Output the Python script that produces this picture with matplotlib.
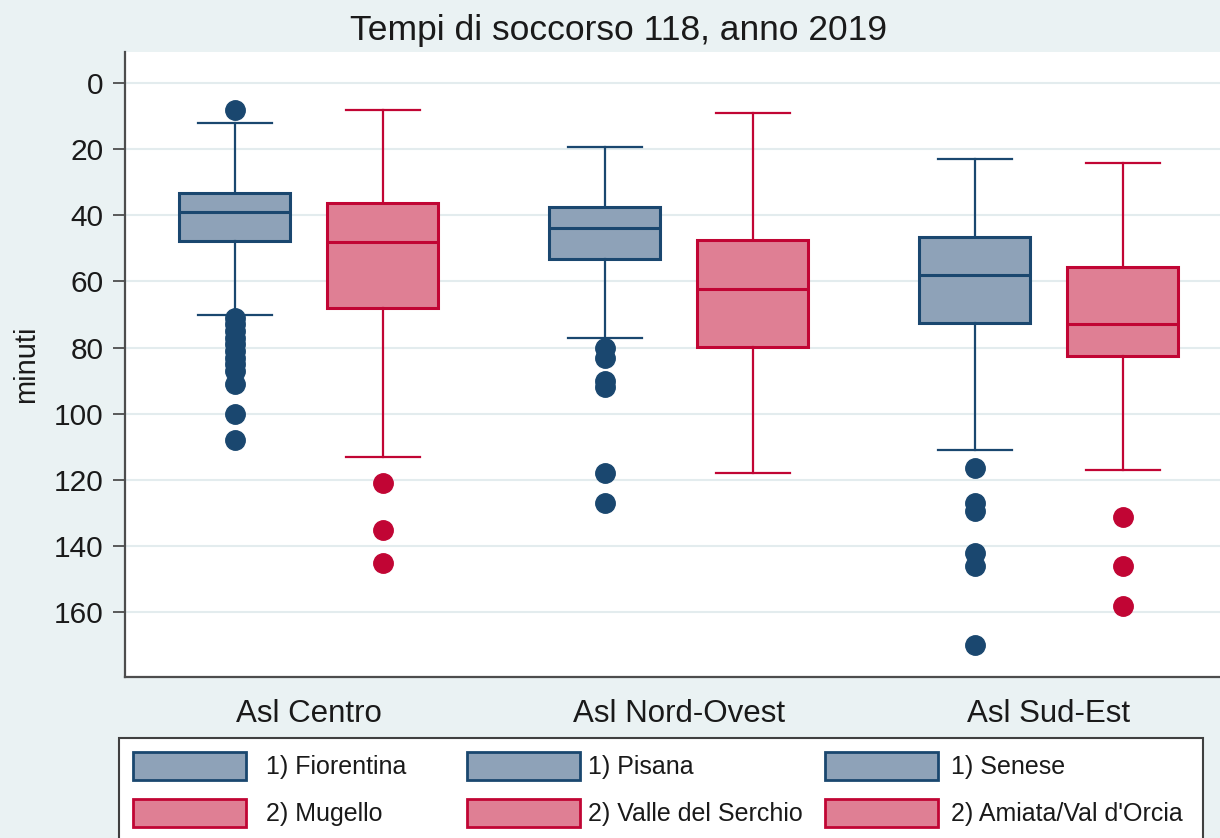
import matplotlib
matplotlib.use("Agg")
import matplotlib.pyplot as plt
from matplotlib.patches import Patch, Rectangle

plt.rcParams['font.family'] = ['Liberation Sans', 'DejaVu Sans']

groups = ['Asl Centro', 'Asl Nord-Ovest', 'Asl Sud-Est']
labels_1 = ['1) Fiorentina', '1) Pisana', '1) Senese']
labels_2 = ['2) Mugello', '2) Valle del Serchio', "2) Amiata/Val d'Orcia"]

# box stats: whisker top, q1, median, q3, whisker bottom (minuti)
whislo_1 = [12, 19.2, 23]
q1_1 = [33.3, 37.5, 46.5]
med_1 = [39, 43.9, 58]
q3_1 = [47.7, 53.2, 72.7]
whishi_1 = [70.2, 77.1, 111]
fliers_1 = [
    [8, 71, 73, 75, 77, 79, 81, 83, 85, 87, 91, 100, 108],
    [80, 83, 90, 92, 118, 127],
    [116.3, 127, 129.5, 142, 146, 170],
]

whislo_2 = [8.1, 9.1, 24.1]
q1_2 = [36.4, 47.4, 55.6]
med_2 = [48, 62.2, 73]
q3_2 = [67.9, 79.8, 82.6]
whishi_2 = [113.1, 118, 117.1]
fliers_2 = [
    [121, 135, 145],
    [],
    [131.2, 146.1, 158.2],
]

blue_edge = '#1a476f'
blue_fill = '#8ea2b8'
red_edge = '#c10534'
red_fill = '#df7f94'
bg = '#eaf2f3'


def make_stats(lo, a, m, b, hi, fl):
    return [dict(whislo=lo[i], q1=a[i], med=m[i], q3=b[i], whishi=hi[i], fliers=fl[i])
            for i in range(len(lo))]


fig = plt.figure(figsize=(12.2, 8.38), dpi=100, facecolor=bg)
ax = fig.add_axes([125 / 1220, 1 - 677 / 838, 1095 / 1220, 625 / 838])
ax.set_facecolor('white')

pos = [0, 1, 2]
for stats, off, ec, fc in [
    (make_stats(whislo_1, q1_1, med_1, q3_1, whishi_1, fliers_1), -0.2, blue_edge, blue_fill),
    (make_stats(whislo_2, q1_2, med_2, q3_2, whishi_2, fliers_2), 0.2, red_edge, red_fill),
]:
    ax.bxp(stats, positions=[p + off for p in pos], widths=0.3, capwidths=0.2,
           patch_artist=True, showfliers=True, manage_ticks=False,
           boxprops=dict(facecolor=fc, edgecolor=ec, linewidth=2.2),
           medianprops=dict(color=ec, linewidth=2.2),
           whiskerprops=dict(color=ec, linewidth=1.6),
           capprops=dict(color=ec, linewidth=1.6),
           flierprops=dict(marker='o', markerfacecolor=ec, markeredgecolor=ec,
                           markersize=14, linestyle='none'))

ax.set_xlim(-0.497, 2.463)
ax.set_ylim(179.6, -9.4)
ax.set_yticks(range(0, 161, 20))
ax.set_xticks(pos)
ax.set_xticklabels(groups)
ax.tick_params(axis='y', labelsize=21.5, length=8.6, width=1.3, color='#4d4d4d',
               pad=7, labelcolor='#1a1a1a')
ax.tick_params(axis='x', labelsize=22.5, length=0, pad=16, labelcolor='#1a1a1a')
ax.yaxis.grid(True, color='#e3ecee', linewidth=1.5)
ax.set_axisbelow(True)
for s in ['top', 'right']:
    ax.spines[s].set_visible(False)
for s in ['left', 'bottom']:
    ax.spines[s].set_color('#4d4d4d')
    ax.spines[s].set_linewidth(1.6)
ax.set_ylabel('minuti', fontsize=21, color='#1a1a1a', labelpad=10)

fig.text(618 / 1220, 1 - 40 / 838, 'Tempi di soccorso 118, anno 2019',
         fontsize=25.5, ha='center', va='baseline', color='#1a1a1a')

# legend frame and three columns
fig.add_artist(Rectangle((119 / 1220, -0.05), 1084 / 1220, 0.05 + 100 / 838,
                         transform=fig.transFigure, facecolor='white',
                         edgecolor='#404040', linewidth=1.5))
col_x = [133, 467, 825]
pads = [0.8, 0.32, 0.55]
for i in range(3):
    h = [Patch(facecolor=blue_fill, edgecolor=blue_edge, linewidth=2),
         Patch(facecolor=red_fill, edgecolor=red_edge, linewidth=2)]
    fig.legend(h, [labels_1[i], labels_2[i]], loc='upper left',
               bbox_to_anchor=(col_x[i] / 1220, 1 - 752 / 838), frameon=False,
               fontsize=18, handlelength=4.5, handleheight=1.35,
               handletextpad=pads[i], labelspacing=0.75, borderpad=0,
               borderaxespad=0, labelcolor='#1a1a1a')

fig.savefig('out.png', dpi=100, facecolor=bg)
